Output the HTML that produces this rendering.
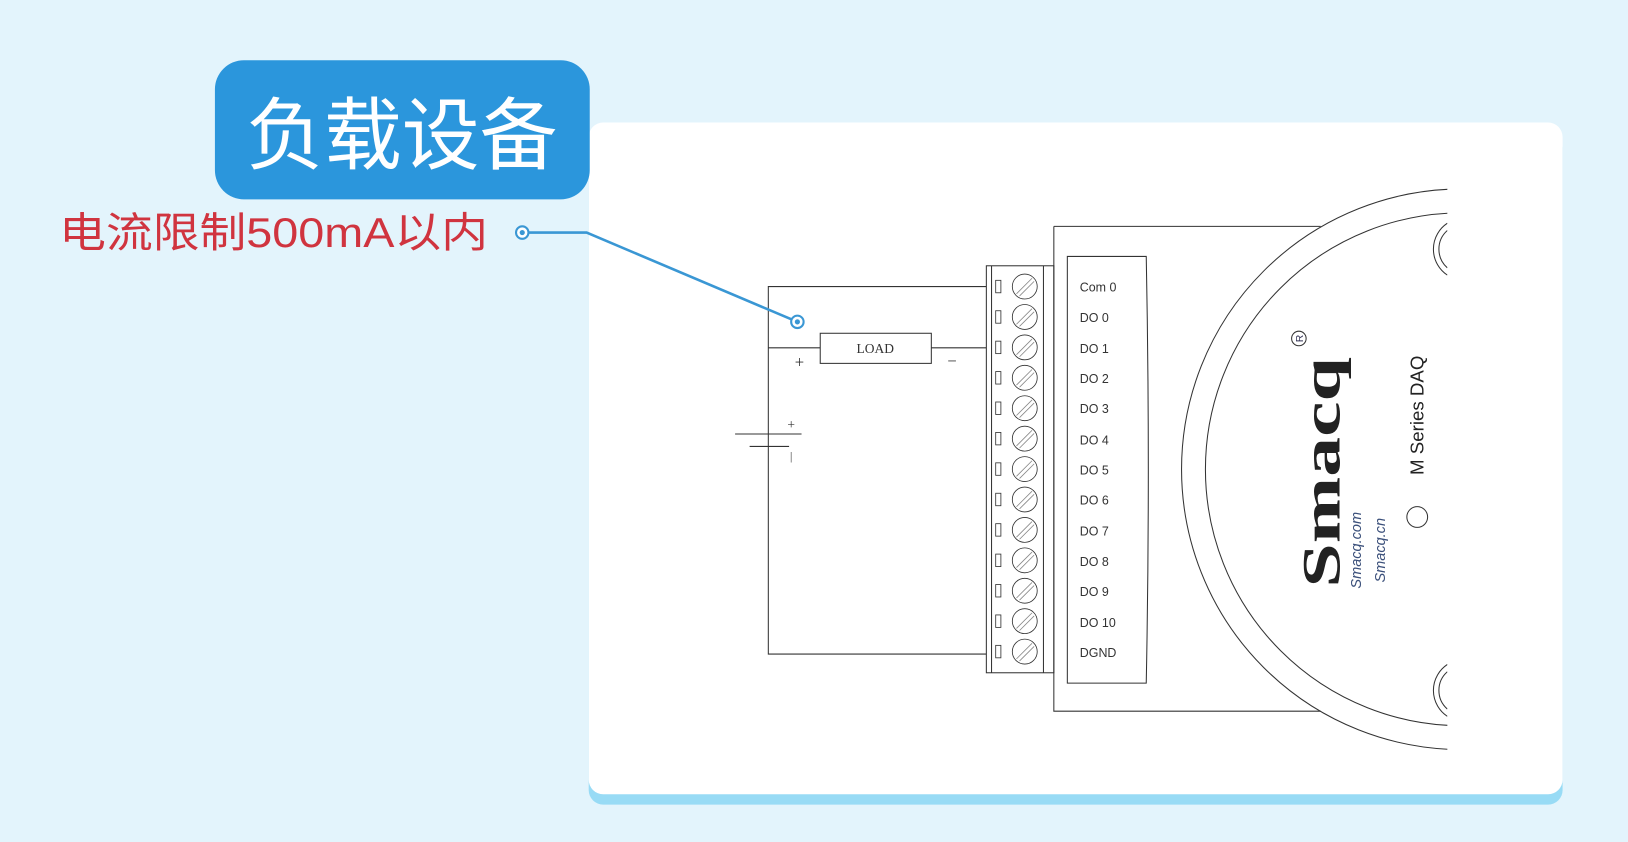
<!DOCTYPE html>
<html><head><meta charset="utf-8"><style>
html,body{margin:0;padding:0;background:#e3f4fc;}
svg{display:block}
</style></head><body>
<svg width="1628" height="842" viewBox="0 0 1568 811" preserveAspectRatio="none" xmlns="http://www.w3.org/2000/svg">
<defs><clipPath id="c"><rect x="0" y="0" width="1394" height="811"/></clipPath></defs>
<rect width="1568" height="811" fill="#e3f4fc"/>
<rect x="567" y="128" width="938" height="647" rx="14" fill="#98dbf5"/>
<rect x="567" y="118" width="938" height="647" rx="14" fill="#fff"/>
<rect x="207" y="58" width="361" height="134" rx="28" fill="#2b96dc"/>
<text x="387" y="157" text-anchor="middle" font-family="Noto Sans CJK SC, sans-serif" font-size="76" fill="#fff" textLength="300" lengthAdjust="spacingAndGlyphs">负载设备</text>
<text x="57" y="238" font-family="Liberation Sans, Noto Sans CJK SC, sans-serif" font-size="40" fill="#d0343f" textLength="413" lengthAdjust="spacingAndGlyphs">电流限制500mA以内</text>
<g stroke="#333" stroke-width="1" fill="none">
<path d="M950 276H740V630H950"/>
<path d="M740 335H790M897 335H950"/>
<rect x="790" y="321" width="107" height="29"/>
<path d="M708 418H772M722 430H760"/>
<rect x="950" y="256" width="65" height="392"/>
<path d="M955 256V648M1005 256V648"/>
<path d="M1015 218H1272M1015 218V685H1272"/>
<path d="M1028 247H1104Q1108 452 1104 658H1028Z"/>
<g clip-path="url(#c)">
<circle cx="1408" cy="452" r="270"/>
<circle cx="1408" cy="452" r="247"/>
<path d="M1394 215A30 30 0 0 0 1394 265M1394 222A24 24 0 0 0 1394 258M1394 640A30 30 0 0 0 1394 690M1394 647A24 24 0 0 0 1394 683"/>
</g>
<circle cx="1365" cy="498" r="10"/>
<circle cx="1251" cy="326" r="7"/>
</g>
<g fill="#fff" stroke="#333" stroke-width="0.8">
<g id="t"><rect x="959" y="270" width="5" height="12"/><circle cx="987" cy="276" r="12"/><path d="M979 283L994 268M982 285L996 271" stroke="#888"/></g>
<use href="#t" y="29.3"/><use href="#t" y="58.6"/><use href="#t" y="87.9"/><use href="#t" y="117.2"/><use href="#t" y="146.5"/><use href="#t" y="175.8"/><use href="#t" y="205.1"/><use href="#t" y="234.4"/><use href="#t" y="263.7"/><use href="#t" y="293"/><use href="#t" y="322.3"/><use href="#t" y="351.6"/>
</g>
<g font-family="Liberation Sans, sans-serif" font-size="12" fill="#333">
<text x="1040" y="281">Com 0</text><text x="1040" y="310">DO 0</text><text x="1040" y="340">DO 1</text><text x="1040" y="369">DO 2</text><text x="1040" y="398">DO 3</text><text x="1040" y="428">DO 4</text><text x="1040" y="457">DO 5</text><text x="1040" y="486">DO 6</text><text x="1040" y="516">DO 7</text><text x="1040" y="545">DO 8</text><text x="1040" y="574">DO 9</text><text x="1040" y="604">DO 10</text><text x="1040" y="633">DGND</text>
</g>
<g font-family="Liberation Serif, serif" font-size="16" fill="#333">
<text x="770" y="354" text-anchor="middle">+</text><text x="917" y="353" text-anchor="middle">−</text>
<text x="762" y="413" text-anchor="middle" font-size="13">+</text><text x="762" y="443" text-anchor="middle" font-size="11">|</text>
<text x="843" y="340" text-anchor="middle" font-size="13">LOAD</text>
</g>
<text transform="translate(1290,455) rotate(-90)" text-anchor="middle" font-family="Liberation Serif, serif" font-weight="bold" font-size="52" fill="#222" textLength="222" lengthAdjust="spacingAndGlyphs">Smacq</text>
<text transform="translate(1255,326) rotate(-90)" text-anchor="middle" font-family="Liberation Sans, sans-serif" font-size="10" fill="#335">R</text>
<text transform="translate(1311,530) rotate(-90)" text-anchor="middle" font-family="Liberation Sans, sans-serif" font-style="italic" font-size="14" fill="#3a4f7a">Smacq.com</text>
<text transform="translate(1334,530) rotate(-90)" text-anchor="middle" font-family="Liberation Sans, sans-serif" font-style="italic" font-size="14" fill="#3a4f7a">Smacq.cn</text>
<text transform="translate(1371,400) rotate(-90)" text-anchor="middle" font-family="Liberation Sans, sans-serif" font-size="18" fill="#222">M Series DAQ</text>
<path d="M503 224H565L768 310" stroke="#3a97d4" stroke-width="2.5" fill="none"/>
<circle cx="503" cy="224" r="6" fill="#fff" stroke="#3a97d4" stroke-width="2"/><circle cx="503" cy="224" r="2.5" fill="#3a97d4"/>
<circle cx="768" cy="310" r="6" fill="#fff" stroke="#3a97d4" stroke-width="2"/><circle cx="768" cy="310" r="2.5" fill="#3a97d4"/>
</svg>
</body></html>
